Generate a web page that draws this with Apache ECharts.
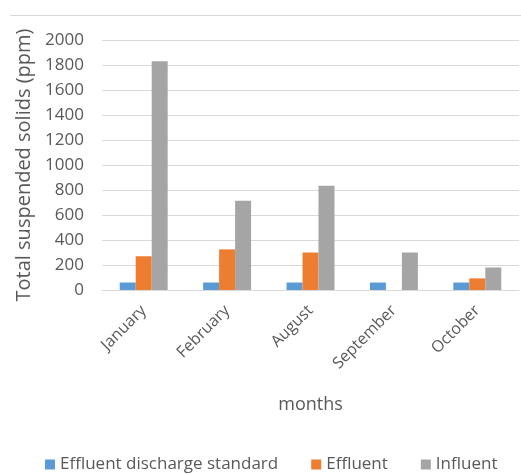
<!DOCTYPE html>
<html>
<head>
<meta charset="utf-8">
<script src="https://cdn.jsdelivr.net/npm/echarts@6/dist/echarts.min.js"></script>
<style>
  html, body { margin: 0; padding: 0; background: #fff; }
  #chart { width: 521px; height: 474px; }
</style>
</head>
<body>
<div id="chart"></div>
<script>
// Monthly total suspended solids readings (ppm)
const months = ['January', 'February', 'August', 'September', 'October'];
const dischargeStandard = [60, 60, 60, 60, 60];
const effluent = [270, 325, 300, 0, 93];
const influent = [1830, 715, 835, 300, 180];
const yTicks = { min: 0, max: 2000, interval: 200 };

const textColor = '#595959';
const fontFamily = '"Open Sans", "DejaVu Sans", sans-serif';

const chart = echarts.init(document.getElementById('chart'));
chart.setOption({
  animation: false,
  textStyle: { fontFamily: fontFamily, color: textColor },
  graphic: [{
    type: 'line',
    shape: { x1: 10, y1: 15.5, x2: 521, y2: 15.5 },
    style: { stroke: '#D9D9D9', lineWidth: 1 },
    silent: true
  }],
  grid: { left: 102, right: 2, top: 40, bottom: 184, containLabel: false },
  legend: {
    top: 451,
    left: 40,
    itemWidth: 10,
    itemHeight: 10,
    itemGap: 33,
    icon: 'rect',
    textStyle: { fontSize: 17, color: textColor, fontFamily: fontFamily },
    data: ['Effluent discharge standard', 'Effluent', 'Influent']
  },
  xAxis: {
    type: 'category',
    data: months,
    name: 'months',
    nameLocation: 'middle',
    nameGap: 106,
    nameTextStyle: { fontSize: 18, color: textColor },
    axisLine: { lineStyle: { color: '#D9D9D9' } },
    axisTick: { show: false },
    axisLabel: { rotate: 45, fontSize: 16, color: textColor, margin: 18 }
  },
  yAxis: {
    type: 'value',
    min: yTicks.min,
    max: yTicks.max,
    interval: yTicks.interval,
    name: 'Total suspended solids (ppm)',
    nameLocation: 'middle',
    nameGap: 66,
    nameTextStyle: { fontSize: 20, color: textColor },
    axisLine: { show: false },
    axisTick: { show: false },
    axisLabel: { fontSize: 17, color: textColor, margin: 18, formatter: (v) => String(v) },
    splitLine: { lineStyle: { color: '#D9D9D9', width: 1 } }
  },
  series: [
    { name: 'Effluent discharge standard', type: 'bar', data: dischargeStandard,
      itemStyle: { color: '#5B9BD5' }, barGap: '0%', barCategoryGap: '42.5%' },
    { name: 'Effluent', type: 'bar', data: effluent,
      itemStyle: { color: '#ED7D31' }, barGap: '0%', barCategoryGap: '42.5%' },
    { name: 'Influent', type: 'bar', data: influent,
      itemStyle: { color: '#A5A5A5' }, barGap: '0%', barCategoryGap: '42.5%' }
  ]
});
</script>
</body>
</html>
